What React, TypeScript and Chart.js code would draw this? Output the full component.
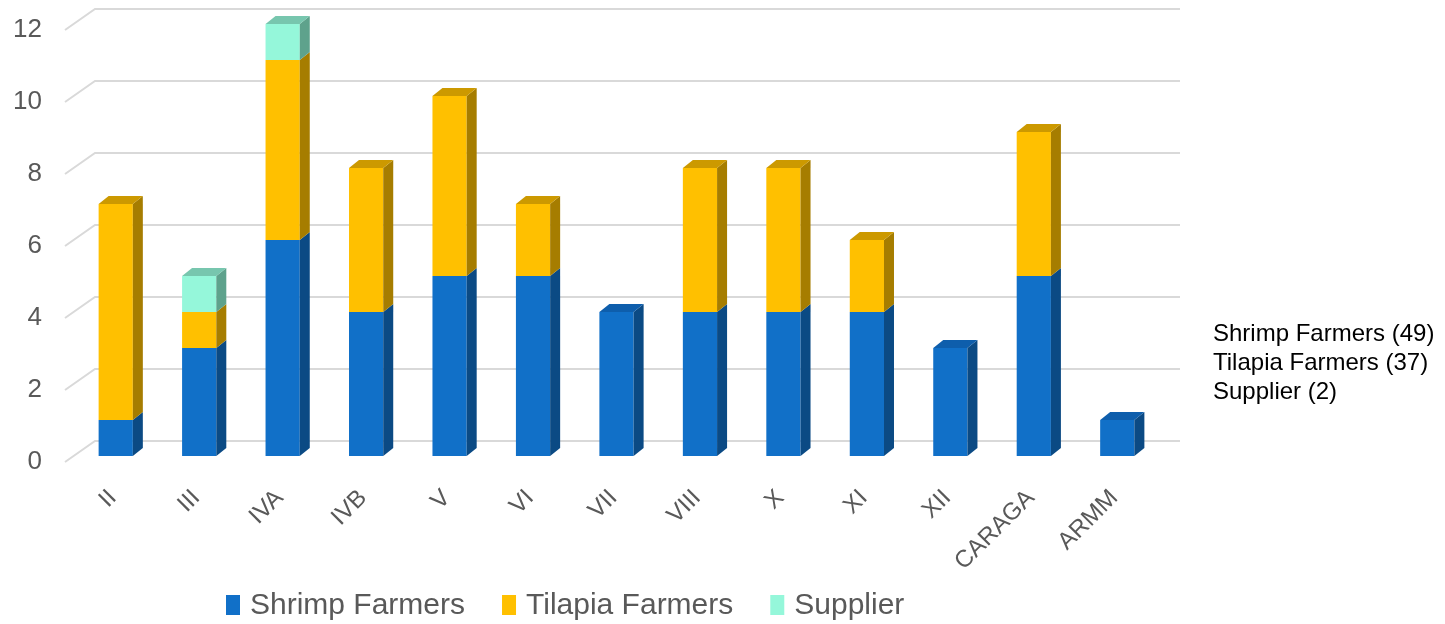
import React, { useEffect, useRef } from "react";
import { Chart, registerables } from "chart.js";

Chart.register(...registerables);

const categories = ["II", "III", "IVA", "IVB", "V", "VI", "VII", "VIII", "X", "XI", "XII", "CARAGA", "ARMM"];
const shrimpFarmers = [1, 3, 6, 4, 5, 5, 4, 4, 4, 4, 3, 5, 1];
const tilapiaFarmers = [6, 1, 5, 4, 5, 2, 0, 4, 4, 2, 0, 4, 0];
const supplier = [0, 1, 1, 0, 0, 0, 0, 0, 0, 0, 0, 0, 0];
const seriesLabels = ["Shrimp Farmers", "Tilapia Farmers", "Supplier"];
const yTicks = [0, 2, 4, 6, 8, 10, 12];
const summaryLines = ["Shrimp Farmers (49)", "Tilapia Farmers (37)", "Supplier (2)"];

const FRONT = ["#1170C8", "#FFC000", "#95F7DA"];
const SIDE = ["#0B4A84", "#A67D00", "#5EA28C"];
const TOP = ["#0E5EAC", "#CC9900", "#77C6AE"];

const FONT = "'Liberation Sans', Arial, Helvetica, sans-serif";
const TEXT_GREY = "#595959";
const DX = 10;
const DY = -8;

const bars3d = {
  id: "bars3d",
  beforeDatasetsDraw(chart: any) {
    const { ctx, chartArea, scales } = chart;
    const y = scales.y;
    ctx.save();
    ctx.strokeStyle = "#D9D9D9";
    ctx.lineWidth = 2;
    for (const v of yTicks) {
      const py = y.getPixelForValue(v);
      ctx.beginPath();
      ctx.moveTo(chartArea.left - 9, py + 6);
      ctx.lineTo(chartArea.left + 21, py - 15);
      ctx.lineTo(chartArea.right + 21, py - 15);
      ctx.stroke();
    }
    ctx.restore();
  },
  afterDatasetsDraw(chart: any) {
    const ctx = chart.ctx;
    const n = chart.data.labels.length;
    const ds = chart.data.datasets;
    ctx.save();
    for (let j = 0; j < n; j++) {
      let topIdx = -1;
      ds.forEach((d: any, i: number) => {
        if (d.data[j] > 0) topIdx = i;
      });
      ds.forEach((d: any, i: number) => {
        if (!(d.data[j] > 0)) return;
        const el = chart.getDatasetMeta(i).data[j];
        const { x, y, base, width } = el.getProps(["x", "y", "base", "width"], true);
        const l = x - width / 2;
        const r = x + width / 2;
        ctx.fillStyle = SIDE[i];
        ctx.beginPath();
        ctx.moveTo(r, base);
        ctx.lineTo(r + DX, base + DY);
        ctx.lineTo(r + DX, y + DY);
        ctx.lineTo(r, y);
        ctx.closePath();
        ctx.fill();
        if (i === topIdx) {
          ctx.fillStyle = TOP[i];
          ctx.beginPath();
          ctx.moveTo(l, y);
          ctx.lineTo(l + DX, y + DY);
          ctx.lineTo(r + DX, y + DY);
          ctx.lineTo(r, y);
          ctx.closePath();
          ctx.fill();
        }
      });
    }
    ctx.restore();
  },
  afterDraw(chart: any) {
    const ctx = chart.ctx;
    ctx.save();
    ctx.font = `30px ${FONT}`;
    ctx.textBaseline = "middle";
    ctx.textAlign = "left";
    let x = 226;
    const cy = 605;
    chart.data.datasets.forEach((d: any) => {
      ctx.fillStyle = d.backgroundColor;
      ctx.fillRect(x, cy - 10, 14, 20);
      ctx.fillStyle = TEXT_GREY;
      ctx.fillText(d.label, x + 24, cy + 1);
      x += 24 + ctx.measureText(d.label).width + 37;
    });
    ctx.restore();
  },
};

export default function App() {
  const ref = useRef<HTMLCanvasElement | null>(null);

  useEffect(() => {
    if (!ref.current) return;
    const values = [shrimpFarmers, tilapiaFarmers, supplier];
    const chart = new Chart(ref.current, {
      type: "bar",
      data: {
        labels: categories,
        datasets: seriesLabels.map((label, i) => ({
          label,
          data: values[i],
          backgroundColor: FRONT[i],
          borderWidth: 0,
          barPercentage: 0.41,
          categoryPercentage: 1,
        })),
      },
      options: {
        responsive: false,
        animation: false,
        layout: { padding: { top: 24, right: 286, left: 0, bottom: 0 } },
        plugins: { legend: { display: false }, tooltip: { enabled: false } },
        scales: {
          x: {
            stacked: true,
            grid: { display: false, drawTicks: false },
            border: { display: false },
            ticks: {
              autoSkip: false,
              minRotation: 45,
              maxRotation: 45,
              padding: 28,
              labelOffset: -3,
              color: TEXT_GREY,
              font: { family: FONT, size: 24 },
            },
            afterFit: (s: any) => {
              s.height = 168;
              s.paddingLeft = 0;
              s.paddingRight = 0;
            },
          },
          y: {
            stacked: true,
            min: 0,
            max: 12,
            grid: { display: false, drawTicks: false },
            border: { display: false },
            ticks: {
              stepSize: 2,
              padding: 32,
              labelOffset: 6,
              color: TEXT_GREY,
              font: { family: FONT, size: 26 },
            },
            afterFit: (s: any) => {
              s.width = 74;
              s.paddingTop = 0;
              s.paddingBottom = 0;
            },
          },
        },
      },
      plugins: [bars3d],
    });
    return () => chart.destroy();
  }, []);

  return (
    <div style={{ position: "absolute", left: 0, top: 0, width: 1445, height: 624, background: "#fff" }}>
      <canvas ref={ref} width={1445} height={624} style={{ position: "absolute", left: 0, top: 0 }} />
      <div
        style={{
          position: "absolute",
          left: 1213,
          top: 318,
          fontFamily: FONT,
          fontSize: 24,
          lineHeight: "29px",
          color: "#000",
          whiteSpace: "nowrap",
        }}
      >
        {summaryLines.map((t) => (
          <div key={t}>{t}</div>
        ))}
      </div>
    </div>
  );
}
